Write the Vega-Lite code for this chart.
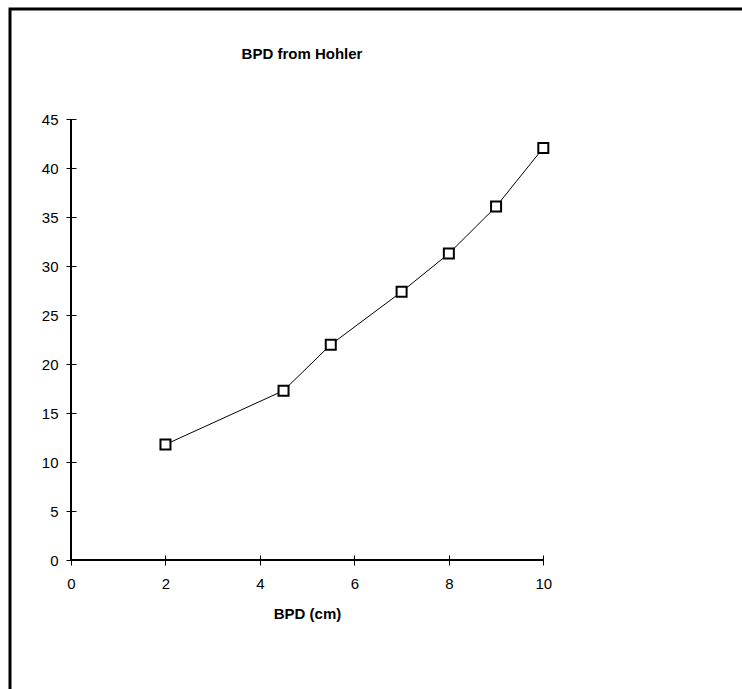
{
  "$schema": "https://vega.github.io/schema/vega-lite/v6.json",
  "width": 732,
  "height": 680,
  "autosize": "none",
  "padding": {"left": 10, "top": 9, "right": 0, "bottom": 0},
  "background": "white",
  "title": {
    "text": "BPD from Hohler",
    "font": "Liberation Sans",
    "fontSize": 15,
    "fontWeight": "bold",
    "color": "black",
    "anchor": "middle",
    "baseline": "alphabetic",
    "offset": 0,
    "dx": -74,
    "dy": 65
  },
  "config": {
    "view": {"stroke": "black", "strokeWidth": 3, "strokeDash": [733.5, 1410, 682]},
    "axis": {
      "grid": false,
      "domain": false,
      "labelFont": "Liberation Sans",
      "labelFontSize": 15,
      "labelColor": "black",
      "tickColor": "black",
      "tickWidth": 1,
      "tickSize": 10,
      "titleFont": "Liberation Sans",
      "titleColor": "black"
    }
  },
  "data": {
    "values": [
      {"bpd": 2, "value": 11.8},
      {"bpd": 4.5, "value": 17.3},
      {"bpd": 5.5, "value": 22.0},
      {"bpd": 7, "value": 27.4},
      {"bpd": 8, "value": 31.3},
      {"bpd": 9, "value": 36.1},
      {"bpd": 10, "value": 42.1}
    ]
  },
  "encoding": {
    "x": {
      "field": "bpd",
      "type": "quantitative",
      "scale": {"domain": [-1.2916, 14.207], "nice": false, "zero": false},
      "axis": {
        "values": [0, 2, 4, 6, 8, 10],
        "offset": -134,
        "labelPadding": 11,
        "title": "BPD (cm)",
        "titleFontSize": 15,
        "titleFontWeight": "bold",
        "titleX": 297,
        "titlePadding": 15
      }
    },
    "y": {
      "field": "value",
      "type": "quantitative",
      "scale": {"domain": [-13.178, 56.288], "nice": false, "zero": false},
      "axis": {
        "values": [0, 5, 10, 15, 20, 25, 30, 35, 40, 45],
        "offset": -66,
        "labelPadding": 8,
        "title": null
      }
    }
  },
  "layer": [
    {
      "mark": {"type": "rule", "color": "black", "strokeWidth": 1},
      "encoding": {
        "x": {"datum": 0, "type": "quantitative"},
        "x2": {"datum": 10},
        "y": {"datum": 0, "type": "quantitative"}
      }
    },
    {
      "mark": {"type": "rule", "color": "black", "strokeWidth": 1},
      "encoding": {
        "x": {"datum": 0, "type": "quantitative"},
        "y": {"datum": 0, "type": "quantitative"},
        "y2": {"datum": 45}
      }
    },
    {
      "mark": {"type": "line", "color": "black", "strokeWidth": 1}
    },
    {
      "mark": {
        "type": "point",
        "shape": "square",
        "size": 100,
        "filled": true,
        "fill": "white",
        "stroke": "black",
        "strokeWidth": 2,
        "opacity": 1
      }
    }
  ]
}
